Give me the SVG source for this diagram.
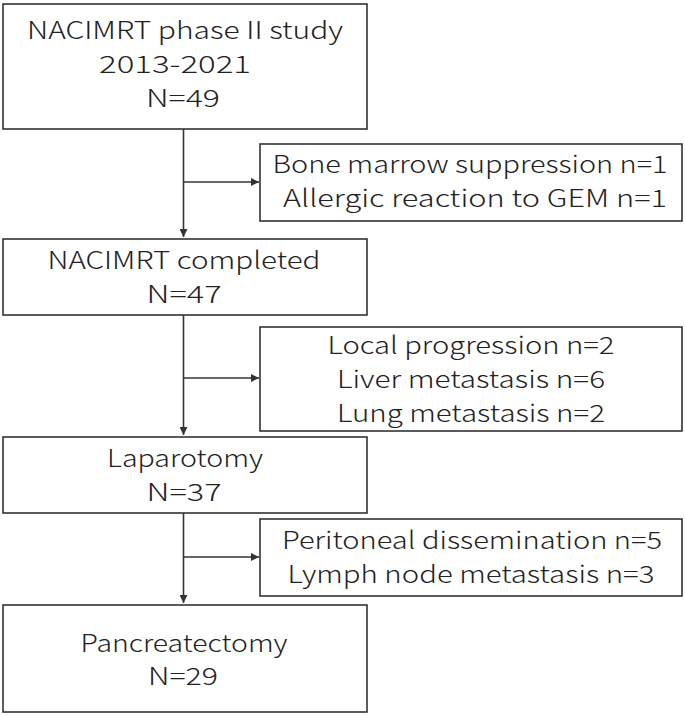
<svg xmlns="http://www.w3.org/2000/svg" width="685" height="715" viewBox="0 0 685 715">
<defs>
<style>
.box{fill:#fff;stroke:#333;stroke-width:1.6}
.t{font-family:"Noto Sans CJK JP","Noto Sans",sans-serif;font-size:24px;font-weight:300;fill:#222;text-anchor:middle}
.c{fill:none;stroke:#333;stroke-width:1.6}
</style>
<marker id="ah" viewBox="0 0 10 10" refX="10" refY="5" markerWidth="8" markerHeight="8" markerUnits="userSpaceOnUse" orient="auto"><path d="M0,0 L10,5 L0,10 Z" fill="#333"/></marker>
</defs>
<rect width="685" height="715" fill="#fff"/>
<g id="connectors">
<path class="c" d="M183.5,129 V237" marker-end="url(#ah)"/>
<path class="c" d="M183.5,182 H259" marker-end="url(#ah)"/>
<path class="c" d="M183.5,315 V435" marker-end="url(#ah)"/>
<path class="c" d="M183.5,378 H259" marker-end="url(#ah)"/>
<path class="c" d="M183.5,513 V603" marker-end="url(#ah)"/>
<path class="c" d="M183.5,557 H259" marker-end="url(#ah)"/>
</g>
<g id="study">
<rect class="box" x="3" y="4" width="364" height="125"/>
<text class="t" x="185" y="39" textLength="316" lengthAdjust="spacingAndGlyphs">NACIMRT phase II study</text>
<text class="t" x="175" y="73" textLength="152" lengthAdjust="spacingAndGlyphs">2013-2021</text>
<text class="t" x="183" y="107" textLength="74" lengthAdjust="spacingAndGlyphs">N=49</text>
</g>
<g id="excl1">
<rect class="box" x="260" y="144" width="422" height="77"/>
<text class="t" x="470" y="173" textLength="395" lengthAdjust="spacingAndGlyphs">Bone marrow suppression n=1</text>
<text class="t" x="475" y="207" textLength="384" lengthAdjust="spacingAndGlyphs">Allergic reaction to GEM n=1</text>
</g>
<g id="completed">
<rect class="box" x="3" y="239" width="364" height="76"/>
<text class="t" x="184" y="269" textLength="273" lengthAdjust="spacingAndGlyphs">NACIMRT completed</text>
<text class="t" x="184" y="303" textLength="75" lengthAdjust="spacingAndGlyphs">N=47</text>
</g>
<g id="excl2">
<rect class="box" x="260" y="327" width="422" height="104"/>
<text class="t" x="471" y="354" textLength="287" lengthAdjust="spacingAndGlyphs">Local progression n=2</text>
<text class="t" x="471" y="388" textLength="268" lengthAdjust="spacingAndGlyphs">Liver metastasis n=6</text>
<text class="t" x="471" y="422" textLength="268" lengthAdjust="spacingAndGlyphs">Lung metastasis n=2</text>
</g>
<g id="laparotomy">
<rect class="box" x="3" y="437" width="364" height="76"/>
<text class="t" x="185" y="467" textLength="156" lengthAdjust="spacingAndGlyphs">Laparotomy</text>
<text class="t" x="184" y="501" textLength="75" lengthAdjust="spacingAndGlyphs">N=37</text>
</g>
<g id="excl3">
<rect class="box" x="260" y="519" width="422" height="77"/>
<text class="t" x="472" y="549" textLength="380" lengthAdjust="spacingAndGlyphs">Peritoneal dissemination n=5</text>
<text class="t" x="471" y="583" textLength="367" lengthAdjust="spacingAndGlyphs">Lymph node metastasis n=3</text>
</g>
<g id="pancreatectomy">
<rect class="box" x="3" y="605" width="364" height="107"/>
<text class="t" x="184" y="652" textLength="207" lengthAdjust="spacingAndGlyphs">Pancreatectomy</text>
<text class="t" x="183" y="685" textLength="70" lengthAdjust="spacingAndGlyphs">N=29</text>
</g>
</svg>
